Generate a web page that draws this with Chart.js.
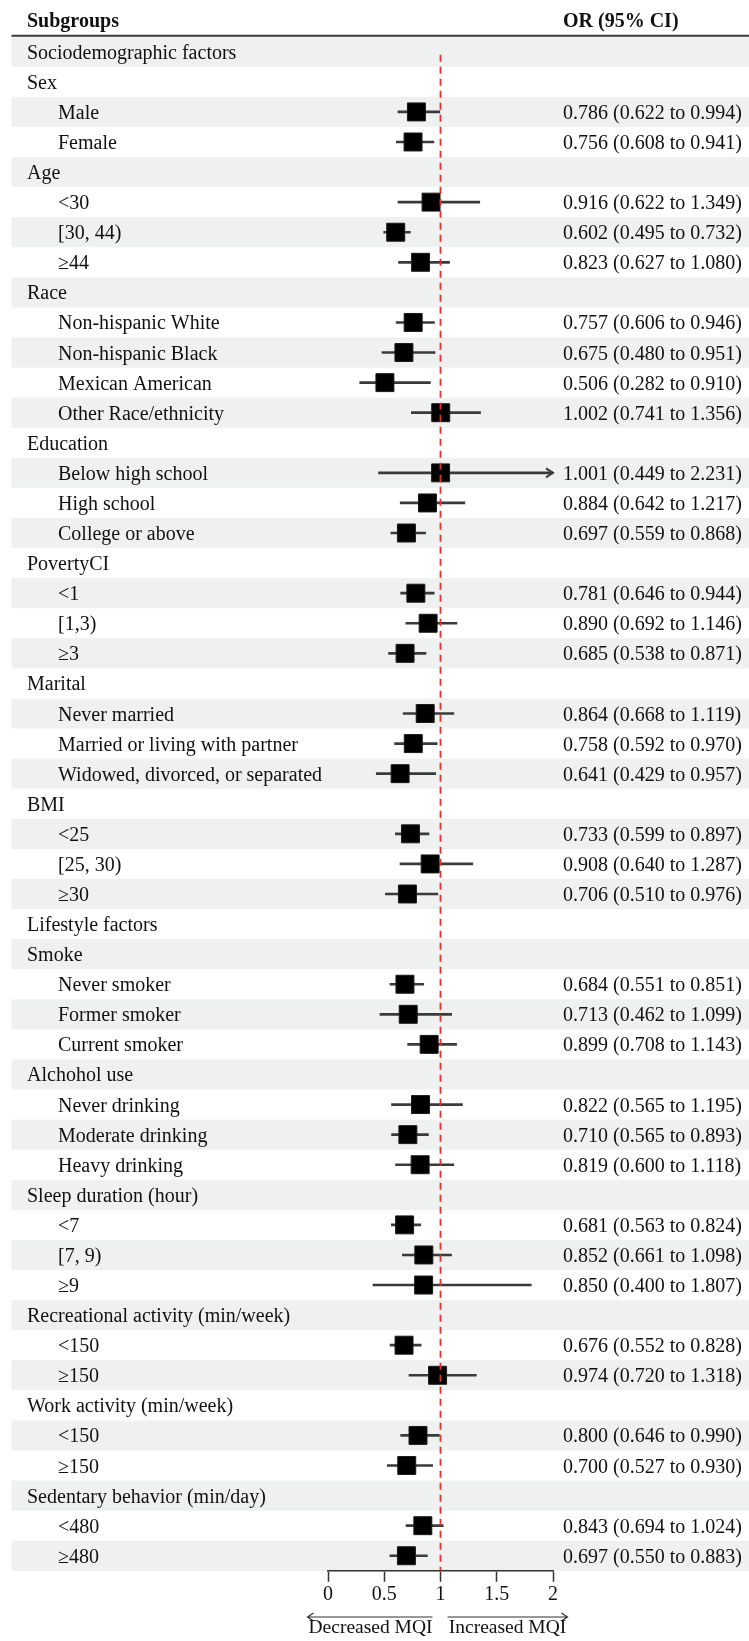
<!DOCTYPE html>
<html>
<head>
<meta charset="utf-8">
<title>Subgroup analysis - OR (95% CI)</title>
<script src="https://cdn.jsdelivr.net/npm/chart.js@4"></script>
<style>
  html, body { margin: 0; padding: 0; background: #fff; }
  #wrap { width: 749px; height: 1641px; }
</style>
</head>
<body>
<div id="wrap"><canvas id="forest" width="749" height="1641"></canvas></div>
<script>
// Rows of the table, top to bottom (rows without an OR are group headings)
const subgroups = [
  'Sociodemographic factors', 'Sex', 'Male', 'Female',
  'Age', '<30', '[30, 44)', '\u226544',
  'Race', 'Non-hispanic White', 'Non-hispanic Black', 'Mexican American', 'Other Race/ethnicity',
  'Education', 'Below high school', 'High school', 'College or above',
  'PovertyCI', '<1', '[1,3)', '\u22653',
  'Marital', 'Never married', 'Married or living with partner', 'Widowed, divorced, or separated',
  'BMI', '<25', '[25, 30)', '\u226530',
  'Lifestyle factors', 'Smoke', 'Never smoker', 'Former smoker', 'Current smoker',
  'Alchohol use', 'Never drinking', 'Moderate drinking', 'Heavy drinking',
  'Sleep duration (hour)', '<7', '[7, 9)', '\u22659',
  'Recreational activity (min/week)', '<150', '\u2265150',
  'Work activity (min/week)', '<150', '\u2265150',
  'Sedentary behavior (min/day)', '<480', '\u2265480'
];
const oddsRatio = [
  null, null, 0.786, 0.756,
  null, 0.916, 0.602, 0.823,
  null, 0.757, 0.675, 0.506, 1.002,
  null, 1.001, 0.884, 0.697,
  null, 0.781, 0.890, 0.685,
  null, 0.864, 0.758, 0.641,
  null, 0.733, 0.908, 0.706,
  null, null, 0.684, 0.713, 0.899,
  null, 0.822, 0.710, 0.819,
  null, 0.681, 0.852, 0.850,
  null, 0.676, 0.974,
  null, 0.800, 0.700,
  null, 0.843, 0.697
];
const ciLower = [
  null, null, 0.622, 0.608,
  null, 0.622, 0.495, 0.627,
  null, 0.606, 0.480, 0.282, 0.741,
  null, 0.449, 0.642, 0.559,
  null, 0.646, 0.692, 0.538,
  null, 0.668, 0.592, 0.429,
  null, 0.599, 0.640, 0.510,
  null, null, 0.551, 0.462, 0.708,
  null, 0.565, 0.565, 0.600,
  null, 0.563, 0.661, 0.400,
  null, 0.552, 0.720,
  null, 0.646, 0.527,
  null, 0.694, 0.550
];
const ciUpper = [
  null, null, 0.994, 0.941,
  null, 1.349, 0.732, 1.080,
  null, 0.946, 0.951, 0.910, 1.356,
  null, 2.231, 1.217, 0.868,
  null, 0.944, 1.146, 0.871,
  null, 1.119, 0.970, 0.957,
  null, 0.897, 1.287, 0.976,
  null, null, 0.851, 1.099, 1.143,
  null, 1.195, 0.893, 1.118,
  null, 0.824, 1.098, 1.807,
  null, 0.828, 1.318,
  null, 0.990, 0.930,
  null, 1.024, 0.883
];
const xTicks = [0, 0.5, 1, 1.5, 2];
const X_MIN = 0, X_MAX = 2, REF = 1;

const FONT = "'Liberation Serif', 'Times New Roman', serif";
const TEXT = '#111';
const LINE = '#3a3a3a';
const BAND = '#eef1f0';
const nRows = subgroups.length;

// whisker and box data, y = row number (1-based)
const ciData = [], boxData = [];
subgroups.forEach((name, i) => {
  if (oddsRatio[i] == null) return;
  ciData.push({ x: [Math.max(ciLower[i], X_MIN), Math.min(ciUpper[i], X_MAX)], y: i + 1 });
  boxData.push({ x: oddsRatio[i], y: i + 1 });
});

const fmt = v => v.toFixed(3);

// table, stripes and header drawn around the plot
const tablePlugin = {
  id: 'forestTable',
  beforeDraw(chart) {
    const { ctx, width } = chart;
    const y = chart.scales.y;
    ctx.save();
    ctx.fillStyle = '#fff';
    ctx.fillRect(0, 0, width, chart.height);

    // alternating row bands
    ctx.fillStyle = BAND;
    for (let r = 1; r <= nRows; r += 2) {
      const top = y.getPixelForValue(r - 0.5);
      const bot = y.getPixelForValue(r + 0.5);
      ctx.fillRect(11.5, top, width - 11.5, bot - top);
    }

    // header
    ctx.fillStyle = TEXT;
    ctx.font = 'bold 20px ' + FONT;
    ctx.textBaseline = 'alphabetic';
    ctx.fillText('Subgroups', 27, 27);
    ctx.fillText('OR (95% CI)', 563, 27);
    ctx.strokeStyle = LINE;
    ctx.lineWidth = 2;
    ctx.beginPath();
    ctx.moveTo(11.5, 35.7);
    ctx.lineTo(width, 35.7);
    ctx.stroke();

    // row labels and estimates
    ctx.font = '20px ' + FONT;
    subgroups.forEach((name, i) => {
      const cy = y.getPixelForValue(i + 1) + 7;
      const hasValue = oddsRatio[i] != null;
      ctx.fillText(name, hasValue ? 58 : 27, cy);
      if (hasValue) {
        ctx.fillText(fmt(oddsRatio[i]) + ' (' + fmt(ciLower[i]) + ' to ' + fmt(ciUpper[i]) + ')', 563, cy);
      }
    });
    ctx.restore();
  },
  afterDraw(chart) {
    const { ctx } = chart;
    const x = chart.scales.x, y = chart.scales.y;
    ctx.save();
    ctx.strokeStyle = LINE;
    ctx.lineWidth = 2;
    // arrow heads where the CI runs past the axis
    subgroups.forEach((name, i) => {
      if (oddsRatio[i] == null || ciUpper[i] <= X_MAX) return;
      const tip = x.getPixelForValue(X_MAX);
      const cy = y.getPixelForValue(i + 1);
      ctx.beginPath();
      ctx.moveTo(tip - 7, cy - 4.5);
      ctx.lineTo(tip, cy);
      ctx.lineTo(tip - 7, cy + 4.5);
      ctx.stroke();
    });

    // direction arrows under the axis
    const ref = x.getPixelForValue(REF);
    const ay = 1617;
    ctx.lineWidth = 1.2;
    ctx.strokeStyle = '#333';
    ctx.beginPath();
    ctx.moveTo(ref - 8, ay); ctx.lineTo(ref - 133, ay);
    ctx.moveTo(ref - 127, ay - 4); ctx.lineTo(ref - 133, ay); ctx.lineTo(ref - 127, ay + 4);
    ctx.moveTo(ref + 7, ay); ctx.lineTo(ref + 127, ay);
    ctx.moveTo(ref + 121, ay - 4); ctx.lineTo(ref + 127, ay); ctx.lineTo(ref + 121, ay + 4);
    ctx.stroke();

    ctx.fillStyle = TEXT;
    ctx.font = '19.5px ' + FONT;
    ctx.textAlign = 'center';
    ctx.fillText('Decreased MQI', ref - 70, 1633);
    ctx.fillText('Increased MQI', ref + 67, 1633);
    ctx.restore();
  }
};

const chart = new Chart(document.getElementById('forest'), {
  type: 'scatter',
  data: {
    datasets: [
      {
        type: 'bar',
        label: '95% CI',
        indexAxis: 'y',
        data: ciData,
        backgroundColor: LINE,
        barThickness: 2,
        order: 3
      },
      {
        type: 'scatter',
        label: 'OR',
        data: boxData,
        pointStyle: 'rect',
        pointRadius: 12.7,
        backgroundColor: '#000',
        borderColor: '#1a1a1a',
        borderWidth: 1,
        order: 2
      },
      {
        type: 'line',
        label: 'Reference',
        data: [{ x: REF, y: 1.1 }, { x: REF, y: nRows + 0.5 }],
        borderColor: '#ef2b2b',
        borderWidth: 1.8,
        borderDash: [7, 5],
        pointRadius: 0,
        order: 1
      }
    ]
  },
  options: {
    responsive: false,
    animation: false,
    devicePixelRatio: 1,
    layout: { padding: { left: 328, right: 196, top: 36.7, bottom: 0 } },
    plugins: { legend: { display: false }, tooltip: { enabled: false } },
    scales: {
      x: {
        type: 'linear',
        min: X_MIN,
        max: X_MAX,
        offset: false,
        afterBuildTicks: s => { s.ticks = xTicks.map(v => ({ value: v })); },
        afterFit: s => { s.height = 70.2; },
        grid: { drawOnChartArea: false, offset: false, tickLength: 11, tickWidth: 1.5, tickColor: '#333' },
        border: { display: true, color: '#333', width: 1.5 },
        ticks: {
          padding: 1,
          color: TEXT,
          autoSkip: false,
          maxRotation: 0,
          font: { family: FONT, size: 20 },
          callback: v => String(v)
        }
      },
      y: {
        type: 'linear',
        min: 0.5,
        max: nRows + 0.5,
        reverse: true,
        offset: false,
        display: false
      }
    }
  },
  plugins: [tablePlugin]
});
</script>
</body>
</html>
